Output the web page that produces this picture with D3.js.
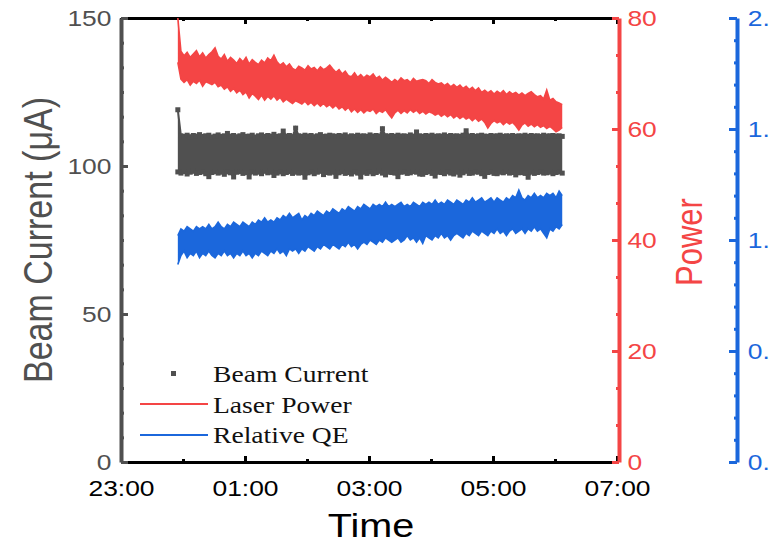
<!DOCTYPE html>
<html>
<head>
<meta charset="utf-8">
<script src="https://cdn.jsdelivr.net/npm/d3@7"></script>
<style>
  body { margin: 0; background: #fff; }
  svg { display: block; }
</style>
</head>
<body>
<svg id="chart" width="769" height="542"></svg>
<script>
// The traces are very dense noise, so each one is kept as its upper and lower
// envelope, read every 3 minutes from 23:55 on.
const startTime = "23:55";
const stepMinutes = 3;

const beamHigh = [
  119, 110.2, 110.0, 110.4, 109.9, 110.3, 110.1, 110.6, 110.0, 110.2,
  110.4, 109.8, 110.1, 110.5, 110.0, 110.2, 111.0, 110.1, 110.3, 109.9,
  110.2, 110.6, 110.0, 110.1, 110.4, 109.8, 110.2, 110.5, 110.0, 110.3,
  110.1, 110.7, 110.0, 110.2, 111.8, 110.1, 110.3, 109.9, 112.8, 110.2,
  110.0, 110.4, 110.1, 110.3, 109.9, 110.2, 110.6, 110.0, 110.1, 110.4,
  110.2, 110.0, 110.3, 110.1, 110.5, 109.9, 110.2, 110.0, 110.4, 110.1,
  110.2, 110.0, 110.5, 110.1, 110.3, 110.0, 112.6, 110.2, 110.1, 110.3,
  110.0, 110.4, 110.1, 110.2, 110.0, 110.5, 110.1, 111.5, 110.2, 110.0,
  110.3, 110.1, 110.4, 110.0, 110.2, 110.1, 110.5, 110.0, 110.3, 110.1,
  110.2, 110.0, 110.4, 111.9, 110.1, 110.3, 110.0, 110.2, 110.4, 110.1,
  110.0, 110.3, 110.1, 110.2, 110.4, 110.0, 110.2, 110.1, 110.3, 110.0,
  110.2, 110.1, 110.4, 110.0, 110.3, 110.1, 110.2, 110.0, 110.4, 110.1,
  110.2, 110.3, 110.1, 110.2, 110.0
];
const beamLow = [
  98.0, 97.6, 98.1, 97.3, 97.9, 98.2, 97.5, 97.8, 98.0, 97.4,
  96.4, 97.8, 98.1, 97.6, 97.9, 97.2, 98.0, 97.7, 96.3, 97.9,
  98.1, 97.5, 97.8, 96.3, 98.0, 97.6, 97.9, 97.4, 98.2, 97.7,
  97.9, 96.8, 97.6, 98.0, 97.4, 97.8, 98.1, 97.5, 97.9, 97.6,
  97.8, 96.2, 97.7, 98.0, 97.4, 97.9, 98.2, 97.1, 97.8, 97.6,
  97.9, 96.5, 97.7, 98.1, 97.5, 97.8, 97.3, 98.0, 97.6, 96.3,
  97.9, 97.5, 98.0, 97.4, 97.8, 98.2, 97.6, 97.0, 97.9, 97.8,
  97.6, 96.4, 97.9, 98.0, 97.5, 97.7, 98.1, 97.9, 97.3, 97.2,
  97.8, 98.1, 97.5, 96.6, 97.9, 97.8, 97.4, 98.0, 97.6, 97.3,
  97.9, 96.9, 97.7, 98.2, 97.5, 97.6, 98.0, 97.9, 97.4, 96.5,
  97.8, 98.0, 97.5, 97.4, 97.9, 97.7, 98.1, 97.6, 97.8, 97.0,
  97.7, 97.8, 97.5, 96.2, 97.9, 97.5, 97.8, 98.0, 97.6, 97.7,
  97.9, 97.4, 97.8, 98.0, 97.6
];

const powerHigh = [
  80, 74.0, 73.2, 73.8, 72.9, 73.5, 74.1, 73.0, 73.7, 72.8,
  73.4, 73.9, 74.6, 73.1, 72.6, 73.4, 72.2, 72.9, 72.4, 71.8,
  72.7, 72.1, 72.9, 71.7, 72.5, 72.0, 71.6, 72.4, 71.9, 72.8,
  72.3, 73.3, 72.1, 71.5, 71.9, 71.2, 71.7, 70.9, 70.6, 71.3,
  71.0, 70.6, 71.4, 70.8, 71.1, 70.5, 71.2, 70.7, 71.0, 71.5,
  70.8, 70.2, 70.7, 69.9, 70.4, 69.6, 69.4, 70.1, 69.3, 69.8,
  69.2, 69.7, 69.4, 69.9, 69.1, 69.5, 68.8, 69.3, 68.9, 68.4,
  68.9, 68.5, 69.2, 68.7, 68.9, 68.4, 69.1, 68.6, 68.8, 68.9,
  68.7, 68.2, 68.9, 68.4, 68.1, 68.3, 67.8, 68.2, 67.6, 68.0,
  67.5, 67.9, 67.3, 67.7, 67.1, 67.5, 66.9, 67.4, 66.6, 67.0,
  66.5, 66.9, 66.3, 66.8, 66.4, 66.9, 66.2, 66.7, 66.3, 66.6,
  66.1, 66.5, 66.0, 66.4, 66.7, 66.2, 65.8, 66.0, 65.4, 67.0,
  65.2, 65.5, 64.9, 64.7, 64.4
];
const powerLow = [
  72.0, 69.0, 68.4, 68.9, 67.9, 68.6, 68.2, 68.8, 67.7, 68.5,
  68.3, 68.0, 68.4, 67.6, 67.9, 67.2, 67.6, 66.8, 67.3, 66.5,
  67.0, 66.2, 66.7, 65.6, 66.4, 65.9, 65.3, 66.1, 65.2, 65.9,
  65.4, 66.0, 65.2, 65.7, 64.9, 65.4, 65.0, 64.6, 65.1, 64.8,
  64.5, 65.0, 64.4, 64.8, 64.2, 64.7, 64.1, 64.6, 64.0, 64.4,
  63.8, 64.3, 63.6, 64.0, 63.4, 63.9, 63.1, 63.6, 63.0, 63.5,
  62.9, 63.4, 63.2, 63.6, 62.8, 63.3, 63.0, 63.5, 62.7, 62.0,
  62.9, 63.4, 62.8, 63.3, 62.9, 63.5, 63.0, 63.4, 62.8, 63.2,
  62.7, 63.1, 62.9, 62.5, 62.8, 62.3, 62.7, 62.2, 62.6, 62.0,
  62.4, 61.9, 62.3, 61.8, 62.1, 61.5, 62.0, 61.4, 61.8, 61.2,
  60.2, 61.0, 61.5, 61.1, 61.4, 60.8, 61.3, 60.9, 61.2, 60.6,
  59.8, 60.7, 61.1, 60.5, 60.9, 60.4, 60.8, 60.3, 60.6, 60.1,
  60.5, 60.0, 59.5, 59.8, 60.3
];

const qeHigh = [
  1.02, 1.05, 1.04, 1.06, 1.05, 1.04, 1.06, 1.05, 1.06, 1.05,
  1.07, 1.05, 1.06, 1.08, 1.06, 1.05, 1.07, 1.06, 1.08, 1.07,
  1.06, 1.08, 1.07, 1.06, 1.08, 1.07, 1.09, 1.08, 1.10, 1.08,
  1.09, 1.08, 1.10, 1.09, 1.11, 1.10, 1.12, 1.10, 1.11, 1.12,
  1.09, 1.11, 1.10, 1.12, 1.11, 1.13, 1.12, 1.11, 1.13, 1.12,
  1.14, 1.13, 1.12, 1.14, 1.13, 1.15, 1.14, 1.13, 1.15, 1.14,
  1.16, 1.15, 1.14, 1.16, 1.15, 1.16, 1.15, 1.17, 1.15, 1.16,
  1.15, 1.16, 1.17, 1.15, 1.16, 1.15, 1.17, 1.16, 1.15, 1.17,
  1.16, 1.17, 1.16, 1.18, 1.16, 1.17, 1.16, 1.18, 1.17, 1.16,
  1.18, 1.17, 1.16, 1.18, 1.17, 1.19, 1.17, 1.18, 1.19, 1.17,
  1.18, 1.19, 1.17, 1.19, 1.18, 1.17, 1.19, 1.18, 1.20, 1.19,
  1.225, 1.19, 1.18, 1.20, 1.19, 1.21, 1.19, 1.20, 1.19, 1.21,
  1.20, 1.21, 1.19, 1.22, 1.20
];
const qeLow = [
  0.89, 0.93, 0.95, 0.92, 0.94, 0.93, 0.95, 0.92, 0.94, 0.93,
  0.95, 0.93, 0.92, 0.94, 0.93, 0.95, 0.93, 0.94, 0.92, 0.94,
  0.93, 0.95, 0.93, 0.94, 0.92, 0.94, 0.93, 0.95, 0.94, 0.93,
  0.95, 0.94, 0.96, 0.94, 0.95, 0.93, 0.96, 0.95, 0.96, 0.94,
  0.96, 0.95, 0.97, 0.96, 0.95, 0.97, 0.96, 0.98, 0.97, 0.96,
  0.98, 0.97, 0.96, 0.98, 0.97, 0.99, 0.97, 0.98, 0.96, 0.98,
  0.99, 0.98, 1.00, 0.99, 0.98, 1.00, 0.99, 1.01, 1.00, 0.99,
  1.00, 1.01, 0.99, 1.00, 1.02, 1.00, 1.01, 0.99, 1.01, 0.985,
  1.02, 1.01, 1.00, 1.02, 1.01, 1.03, 1.01, 1.02, 1.00, 1.02,
  1.03, 1.02, 1.01, 1.03, 1.02, 1.04, 1.03, 1.02, 1.04, 1.03,
  1.02, 1.04, 1.03, 1.05, 1.03, 1.04, 1.02, 1.04, 1.05, 1.03,
  1.04, 1.05, 1.03, 1.05, 1.04, 1.06, 1.04, 1.05, 1.03, 1.01,
  1.05, 1.04, 1.06, 1.05, 1.07
];

const timeTicks = ["23:00", "01:00", "03:00", "05:00", "07:00"];
const beamTicks = [0, 50, 100, 150];
const powerTicks = [0, 20, 40, 60, 80];
const qeTicks = [0, 0.5, 1.0, 1.5, 2.0];
const legendLabels = ["Beam Current", "Laser Power", "Relative QE"];

const grey = "#505050", red = "#f44545", blue = "#1b67dc";
const SX = 1.2; // text in the figure is stretched sideways
const sans = "'Liberation Sans', Arial, sans-serif";
const serif = "'Liberation Serif', 'Times New Roman', serif";

function parseT(s) {
  const [h, m] = s.split(":").map(Number);
  return new Date(2020, 0, h >= 12 ? 1 : 2, h, m);
}
function minors(ticks, n) {
  const out = [];
  for (let i = 0; i < ticks.length - 1; i++) {
    for (let k = 1; k <= n; k++) out.push(ticks[i] + (ticks[i + 1] - ticks[i]) * k / (n + 1));
  }
  return out;
}

const svg = d3.select("#chart");
const plotL = 121, plotR = 617, plotT = 18, plotB = 462;

const x = d3.scaleTime().domain([parseT("23:00"), parseT("07:00")]).range([plotL, plotR]);
const yBeam = d3.scaleLinear().domain([0, 150]).range([plotB, plotT]);
const yPow = d3.scaleLinear().domain([0, 80]).range([plotB, plotT]);
const yQE = d3.scaleLinear().domain([0, 2]).range([plotB, plotT]);

const t0 = parseT(startTime);
const times = beamHigh.map((_, i) => new Date(+t0 + i * stepMinutes * 60000));

// ---- axes
function styleAxis(g, color, w, tw) {
  g.select(".domain").attr("stroke", color).attr("stroke-width", w);
  g.selectAll(".tick line").attr("stroke", color).attr("stroke-width", tw);
  g.selectAll(".tick text").attr("fill", color).style("font-size", "22px").style("font-family", sans);
}

const xMajor = timeTicks.map(parseT);
const xMinor = minors(xMajor.map(Number), 1).map(v => new Date(v));

// bottom
let g = svg.append("g").attr("transform", `translate(0,${plotB})`)
  .call(d3.axisBottom(x).tickValues(xMajor).tickSize(-6).tickSizeOuter(0).tickPadding(18)
    .tickFormat(d3.timeFormat("%H:%M")));
styleAxis(g, "#000", 3, 3);
g.selectAll(".tick text").attr("transform", `scale(${SX},1)`);
g = svg.append("g").attr("transform", `translate(0,${plotB})`)
  .call(d3.axisBottom(x).tickValues(xMinor).tickSize(-3).tickFormat(""));
g.select(".domain").remove();
g.selectAll(".tick line").attr("stroke", "#000").attr("stroke-width", 3);

// top
g = svg.append("g").attr("transform", `translate(0,${plotT})`)
  .call(d3.axisTop(x).tickValues(xMajor).tickSize(-6).tickSizeOuter(0).tickFormat(""));
styleAxis(g, "#000", 3, 3);
g = svg.append("g").attr("transform", `translate(0,${plotT})`)
  .call(d3.axisTop(x).tickValues(xMinor).tickSize(-3).tickFormat(""));
g.select(".domain").remove();
g.selectAll(".tick line").attr("stroke", "#000").attr("stroke-width", 3);

// left: beam current
g = svg.append("g").attr("transform", `translate(${plotL},0)`)
  .call(d3.axisLeft(yBeam).tickValues(beamTicks).tickSize(-7).tickSizeOuter(0).tickPadding(8));
styleAxis(g, grey, 4, 3);
g.selectAll(".tick text").attr("transform", `scale(${SX},1)`);
g = svg.append("g").attr("transform", `translate(${plotL},0)`)
  .call(d3.axisLeft(yBeam).tickValues(minors(beamTicks, 5)).tickSize(-3).tickFormat(""));
g.select(".domain").remove();
g.selectAll(".tick line").attr("stroke", grey).attr("stroke-width", 3);

// right: power
g = svg.append("g").attr("transform", `translate(${plotR + 2},0)`)
  .call(d3.axisRight(yPow).tickValues(powerTicks).tickSize(-7).tickSizeOuter(0).tickPadding(7));
styleAxis(g, red, 4, 3);
g.selectAll(".tick text").attr("transform", `scale(${SX},1)`);
g = svg.append("g").attr("transform", `translate(${plotR + 2},0)`)
  .call(d3.axisRight(yPow).tickValues(minors(powerTicks, 2)).tickSize(-3).tickFormat(""));
g.select(".domain").remove();
g.selectAll(".tick line").attr("stroke", red).attr("stroke-width", 3);

// far right: relative QE (its labels run off the figure's edge, as in the original)
g = svg.append("g").attr("transform", "translate(737,0)")
  .call(d3.axisRight(yQE).tickValues(qeTicks).tickSize(-8).tickSizeOuter(0).tickPadding(9)
    .tickFormat(d3.format(".1f")));
styleAxis(g, blue, 4, 3);
g.selectAll(".tick text").attr("transform", `scale(${SX},1)`);
g = svg.append("g").attr("transform", "translate(737,0)")
  .call(d3.axisRight(yQE).tickValues(minors(qeTicks, 4)).tickSize(-3).tickFormat(""));
g.select(".domain").remove();
g.selectAll(".tick line").attr("stroke", blue).attr("stroke-width", 3);

// ---- titles
function stretched(x0, y0, str, rot) {
  return svg.append("text")
    .attr("transform", `translate(${x0},${y0}) scale(${SX},1)` + (rot ? " rotate(-90)" : ""))
    .style("font-family", sans)
    .text(str);
}
stretched(52, 240, "Beam Current (\u03bcA)", true).attr("text-anchor", "middle")
  .style("font-size", "34px").attr("fill", grey);
stretched(702, 242, "Power", true).attr("text-anchor", "middle")
  .style("font-size", "31px").attr("fill", red);
stretched(371, 537, "Time", false).attr("text-anchor", "middle")
  .style("font-size", "33px").attr("fill", "#000");

// ---- series: filled band between envelopes, ragged edges stroked on top
function band(hi, lo, y, color, edge) {
  svg.append("path")
    .datum(hi.map((v, i) => [times[i], v, lo[i]]))
    .attr("d", d3.area().x(d => x(d[0])).y0(d => y(d[2])).y1(d => y(d[1])))
    .attr("fill", color);
  [hi, lo].forEach(arr => {
    svg.append("path").datum(arr)
      .attr("d", d3.line().x((d, i) => x(times[i])).y(d => y(d)))
      .attr("fill", "none").attr("stroke", color).attr("stroke-width", edge);
  });
}

band(beamHigh, beamLow, yBeam, grey, 2);
svg.append("g").selectAll("rect").data(beamHigh.concat(beamLow)).join("rect")
  .attr("x", (d, i) => x(times[i % beamHigh.length]) - 2.5).attr("y", d => yBeam(d) - 2.5)
  .attr("width", 5).attr("height", 5).attr("fill", grey);

band(powerHigh, powerLow, yPow, red, 1.6);
band(qeHigh, qeLow, yQE, blue, 1.6);

// ---- legend
const legendRows = [382, 413, 443];
const lg = svg.append("g");
lg.append("rect").attr("x", 171).attr("y", 371).attr("width", 5).attr("height", 5).attr("fill", grey);
lg.append("line").attr("x1", 140).attr("x2", 208).attr("y1", 404).attr("y2", 404)
  .attr("stroke", red).attr("stroke-width", 2);
lg.append("line").attr("x1", 140).attr("x2", 208).attr("y1", 435).attr("y2", 435)
  .attr("stroke", blue).attr("stroke-width", 2);
legendLabels.forEach((lab, i) => {
  stretched(213, legendRows[i], lab, false)
    .style("font-family", serif)
    .style("font-size", "23px").attr("fill", "#111");
});
</script>
</body>
</html>
